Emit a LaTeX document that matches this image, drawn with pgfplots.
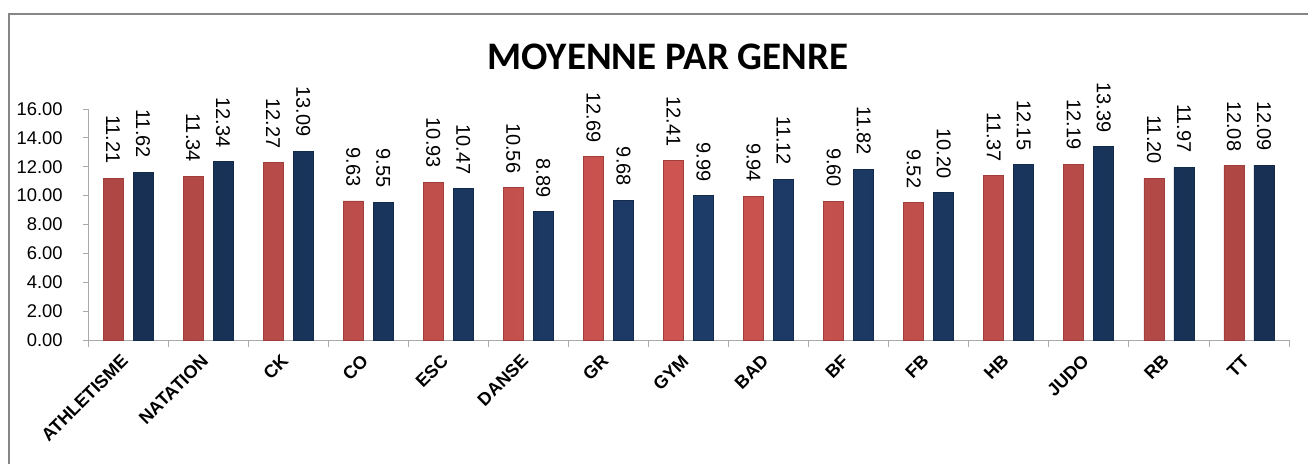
\documentclass[border=0pt]{standalone}
\usepackage{fontspec}
\setmainfont{Liberation Sans}
\newfontfamily\titlefont{Carlito}
\usepackage{pgfplots}
\pgfplotsset{compat=1.18}
\definecolor{rouge}{HTML}{CD5451}
\definecolor{rougebord}{HTML}{A13E3C}
\definecolor{bleu}{HTML}{1D3C68}
\definecolor{bleubord}{HTML}{122A4C}
\definecolor{cadre}{HTML}{868686}
\begin{document}
\begin{tikzpicture}
  \useasboundingbox (0,0) rectangle (654pt,-231.5pt);
  % cadre du graphique
  \draw[cadre, line width=1.3pt] (4.4pt,-232pt) -- (4.4pt,-7pt) -- (655pt,-7pt);
  \node[font=\titlefont\bfseries\fontsize{19.5}{22}\selectfont] at (334pt,-28.5pt) {MOYENNE PAR GENRE};
  \begin{axis}[
      at={(44pt,-170pt)}, anchor=south west,
      scale only axis, width=600.5pt, height=115.5pt,
      ybar=5pt, bar width=10pt,
      xmin=-0.5, xmax=14.5, ymin=0, ymax=16,
      enlarge x limits=false, enlarge y limits=false,
      axis lines*=left, axis line style={cadre!70, -},
      xtick={0,...,14},
      xticklabels={ATHLETISME,NATATION,CK,CO,ESC,DANSE,GR,GYM,BAD,BF,FB,HB,JUDO,RB,TT},
      minor xtick={-0.5,0.5,...,14.5},
      ytick={0,2,...,16},
      tick align=outside, major tick length=2.5pt, minor tick length=3.5pt,
      every major x tick/.style={draw=none},
      every minor x tick/.style={draw=cadre!70, thin},
      every major y tick/.style={draw=cadre!70, thin},
      x tick label style={font=\bfseries\fontsize{9}{10}\selectfont, inner sep=0pt,
        anchor=east, xshift=-1.5pt, yshift=-6.4pt, rotate=45},
      y tick label style={font=\fontsize{9.2}{11}\selectfont, inner sep=3pt, xshift=-7pt},
      /pgf/number format/.cd, fixed, fixed zerofill, precision=2, assume math mode=true,
      /pgfplots/.cd,
      yticklabel={\pgfmathprintnumber{\tick}},
      nodes near coords={\rotatebox{-90}{\fontsize{10}{12}\selectfont\pgfmathprintnumber{\pgfplotspointmeta}}},
      every node near coord/.append style={inner ysep=7pt, inner xsep=0pt, text=black},
    ]
    \addplot[draw=rougebord, left color=rouge!85!black, right color=rouge!85!black, middle color=rouge] coordinates {
      (0,11.21) (1,11.34) (2,12.27) (3,9.63) (4,10.93) (5,10.56) (6,12.69) (7,12.41)
      (8,9.94) (9,9.60) (10,9.52) (11,11.37) (12,12.19) (13,11.20) (14,12.08)};
    \addplot[draw=bleubord, left color=bleu!80!black, right color=bleu!80!black, middle color=bleu] coordinates {
      (0,11.62) (1,12.34) (2,13.09) (3,9.55) (4,10.47) (5,8.89) (6,9.68) (7,9.99)
      (8,11.12) (9,11.82) (10,10.20) (11,12.15) (12,13.39) (13,11.97) (14,12.09)};
  \end{axis}
\end{tikzpicture}
\end{document}
